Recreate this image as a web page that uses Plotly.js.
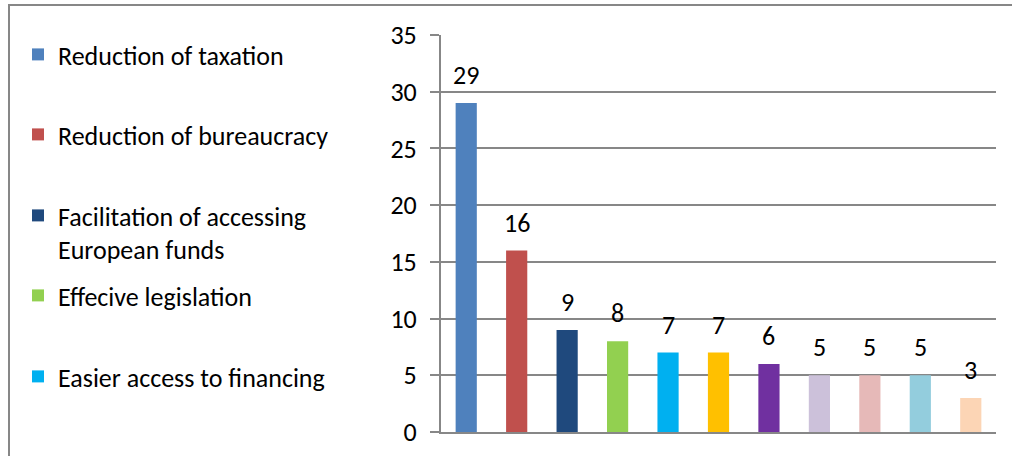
<!DOCTYPE html>
<html>
<head>
<meta charset="utf-8">
<script src="https://cdn.plot.ly/plotly-3.0.1.min.js"></script>
<style>html,body{margin:0;padding:0;background:#fff;}#chart{width:1012px;height:456px;}</style>
</head>
<body>
<div id="chart"></div>
<script>
// ---- data ----
const legendLabels = [
  "Reduction of taxation",
  "Reduction of bureaucracy",
  "Facilitation of accessing<br>European funds",
  "Effecive legislation",
  "Easier access to financing"
];
const values = [29, 16, 9, 8, 7, 7, 6, 5, 5, 5, 3];
const barColors = ["#4F81BD", "#C0504D", "#1F497D", "#92D050", "#00B0F0", "#FFC000",
                   "#7030A0", "#CCC1DA", "#E6B9B8", "#93CDDD", "#FCD5B5"];
const yTickVals = [0, 5, 10, 15, 20, 25, 30, 35];

// ---- layout geometry ----
const W = 1012, H = 456;
const M = {l: 441, r: 16, t: 35, b: 24};
const plotW = W - M.l - M.r, plotH = H - M.t - M.b;
const px2x = p => (p - M.l) / plotW;
const px2y = p => (H - M.b - p) / plotH;
const FONT = "Calibri, Carlito, Lato, sans-serif";
const gridCol = "#878787";

const legendKey = i => (i === 0 ? "legend" : "legend" + (i + 1));

const traces = values.map((v, i) => ({
  type: "bar",
  x: [i],
  y: [v],
  name: legendLabels[i] !== undefined ? legendLabels[i] : "Series " + (i + 1),
  showlegend: i < legendLabels.length,
  legend: i < legendLabels.length ? legendKey(i) : "legend",
  marker: {color: barColors[i], line: {width: 0}},
  hoverinfo: "y"
}));

const legendY = [56, 136, 217, 297, 378];
const layout = {
  width: W, height: H,
  margin: M,
  showlegend: true,
  paper_bgcolor: "#fff", plot_bgcolor: "#fff",
  font: {family: FONT, size: 26, color: "#000"},
  barmode: "overlay",
  bargap: 0.58,
  xaxis: {range: [-0.5, values.length - 0.5], showticklabels: false, ticks: "",
          showgrid: false, zeroline: false, showline: true, linecolor: gridCol, linewidth: 2, fixedrange: true},
  yaxis: {range: [0, 35], tickvals: yTickVals, ticks: "outside", ticklen: 9, tickwidth: 2, tickcolor: gridCol,
          showgrid: true, gridcolor: gridCol, gridwidth: 2, zeroline: false,
          showline: true, linecolor: gridCol, linewidth: 2, ticklabelstandoff: 8,
          tickfont: {family: FONT, size: 26, color: "#000"}, fixedrange: true},
  annotations: values.map((v, i) => ({
    x: i, y: v, xref: "x", yref: "y", text: String(v), showarrow: false,
    yanchor: "bottom", yshift: 10, font: {family: FONT, size: 26, color: "#000"}
  })),
  shapes: [{
    type: "rect", xref: "paper", yref: "paper",
    x0: px2x(9), x1: px2x(1030), y0: px2y(480), y1: px2y(5),
    line: {color: gridCol, width: 2}, fillcolor: "rgba(0,0,0,0)", layer: "below"
  }]
};
legendLabels.forEach((lab, i) => {
  layout[legendKey(i)] = {
    visible: true,
    x: px2x(18), y: px2y(legendY[i] - 25), xanchor: "left", yanchor: "top",
    xref: "paper", yref: "paper",
    bgcolor: "rgba(0,0,0,0)", borderwidth: 0, valign: "top",
    font: {family: FONT, size: 26, color: "#000"}
  };
});

Plotly.newPlot("chart", traces, layout, {displayModeBar: false, staticPlot: true});
</script>
</body>
</html>
